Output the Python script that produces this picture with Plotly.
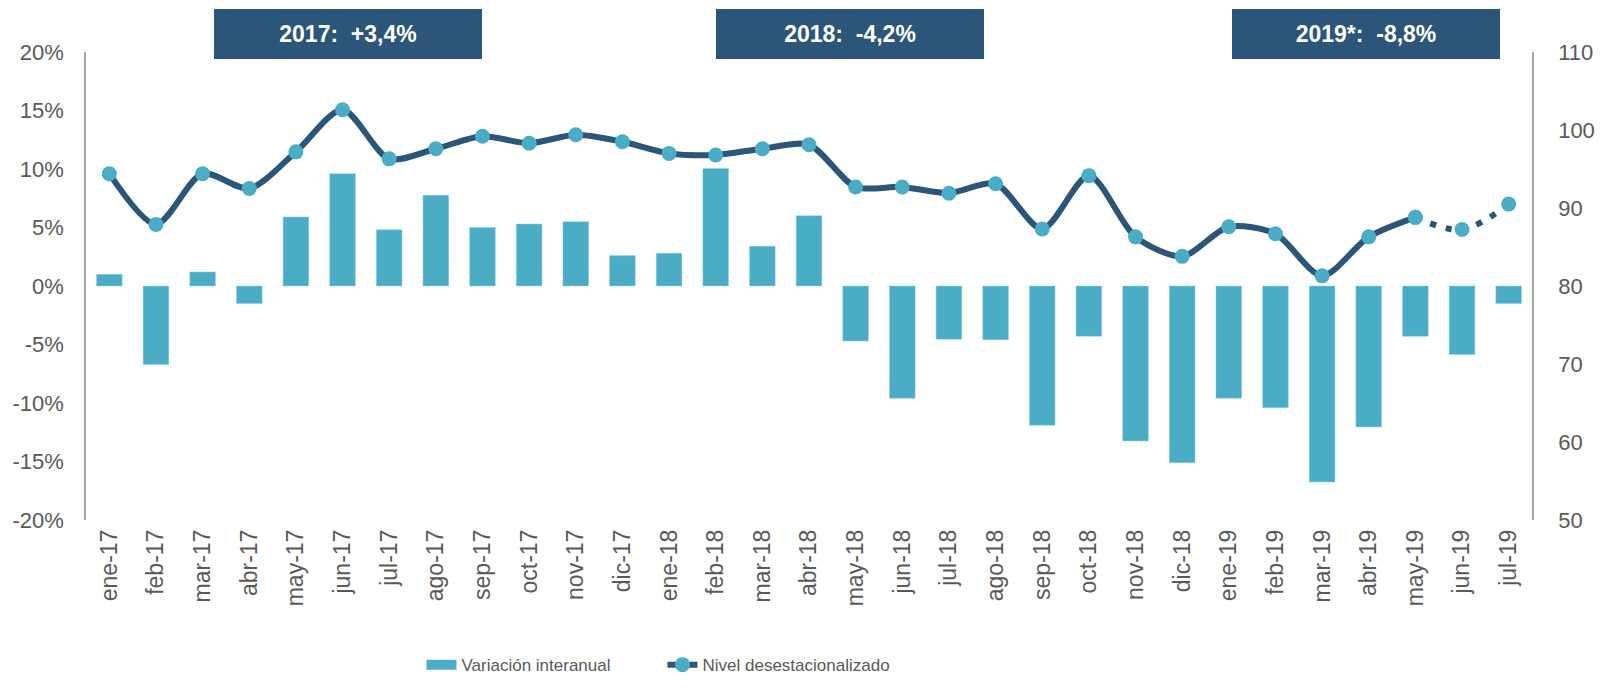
import plotly.graph_objects as go

# Data
meses = ['ene-17', 'feb-17', 'mar-17', 'abr-17', 'may-17', 'jun-17', 'jul-17', 'ago-17',
         'sep-17', 'oct-17', 'nov-17', 'dic-17', 'ene-18', 'feb-18', 'mar-18', 'abr-18',
         'may-18', 'jun-18', 'jul-18', 'ago-18', 'sep-18', 'oct-18', 'nov-18', 'dic-18',
         'ene-19', 'feb-19', 'mar-19', 'abr-19', 'may-19', 'jun-19', 'jul-19']

variacion = [1.0, -6.7, 1.2, -1.5, 5.9, 9.6, 4.8, 7.75, 5.0, 5.3, 5.5, 2.6, 2.8, 10.05,
             3.4, 6.0, -4.7, -9.6, -4.55, -4.6, -11.9, -4.3, -13.25, -15.1, -9.6, -10.4,
             -16.75, -12.05, -4.3, -5.85, -1.5]
variacion = [v / 100 for v in variacion]

nivel = [94.4, 87.9, 94.4, 92.5, 97.2, 102.6, 96.3, 97.6, 99.2, 98.3, 99.4, 98.5, 97.0,
         96.8, 97.6, 98.1, 92.7, 92.7, 91.9, 93.1, 87.3, 94.15, 86.3, 83.8, 87.6, 86.7,
         81.3, 86.3, 88.8, 87.25, 90.5]
n_obs = 29  # observed up to may-19, estimated afterwards

pct_ticks = [-0.20, -0.15, -0.10, -0.05, 0, 0.05, 0.10, 0.15, 0.20]
pct_labels = ['-20%', '-15%', '-10%', '-5%', '0%', '5%', '10%', '15%', '20%']

banners = ['2017:&nbsp; +3,4%', '2018:&nbsp; -4,2%', '2019*:&nbsp; -8,8%']

# Colours
BAR = '#4BACC6'
DARK = '#2B5579'
GRAY = '#595959'
AXIS = '#A6A6A6'
FONT = 'Liberation Sans, Arial'

fig = go.Figure()

fig.add_trace(go.Bar(x=meses, y=variacion, name='Variación interanual', showlegend=False,
                     marker=dict(color=BAR, line=dict(color='#8FD0E0', width=0.5))))

# legend swatch for the bars (wide rectangle, like the original)
fig.add_trace(go.Scatter(x=[None], y=[None], mode='lines', name='Variación interanual',
                         line=dict(color=BAR, width=12)))

fig.add_trace(go.Scatter(x=meses[:n_obs], y=nivel[:n_obs], yaxis='y2', mode='lines+markers',
                         name='Nivel desestacionalizado',
                         line=dict(color=DARK, width=6, shape='spline', smoothing=0.8),
                         marker=dict(color=BAR, size=15)))

fig.add_trace(go.Scatter(x=meses[n_obs - 1:], y=nivel[n_obs - 1:], yaxis='y2',
                         mode='lines+markers', showlegend=False,
                         line=dict(color=DARK, width=6, shape='spline', dash='6px,10px'),
                         marker=dict(color=BAR, size=15)))

# Year banners
for txt, xc in zip(banners, [0.1812, 0.5284, 0.885]):
    fig.add_annotation(text='<b>' + txt + '</b>', xref='paper', yref='paper',
                       x=xc, y=1.0385, xanchor='center', yanchor='middle',
                       showarrow=False, width=268, height=50, bgcolor=DARK,
                       borderpad=0, borderwidth=0,
                       font=dict(color='white', size=23, family=FONT))

fig.update_layout(
    width=1605, height=688,
    margin=dict(l=86, r=73, t=52, b=168, autoexpand=False),
    plot_bgcolor='white', paper_bgcolor='white',
    font=dict(family=FONT, color=GRAY, size=22),
    bargap=0.45,
    showlegend=True,
    legend=dict(orientation='h', x=0.232, y=-0.31, xanchor='left', yanchor='middle',
                font=dict(size=17, family=FONT), entrywidth=196, itemwidth=30),
    xaxis=dict(type='category', range=[-0.5, 30.5], showline=False, showgrid=False,
               tickangle=-90, ticks='', ticklabelstandoff=4,
               tickfont=dict(size=23)),
    yaxis=dict(range=[-0.20, 0.20], tickvals=pct_ticks, ticktext=pct_labels,
               showgrid=False, zeroline=False, showline=True, linecolor=AXIS,
               linewidth=1.5, ticks='', ticklabelstandoff=16, tickfont=dict(size=22)),
    yaxis2=dict(range=[50, 110], dtick=10, overlaying='y', side='right', showgrid=False,
                zeroline=False, showline=True, linecolor=AXIS, linewidth=1.5,
                ticks='', ticklabelstandoff=20, tickfont=dict(size=22)),
)

fig.write_html('out.html', config={'displayModeBar': False},
               post_script="document.body.style.margin='0';")
